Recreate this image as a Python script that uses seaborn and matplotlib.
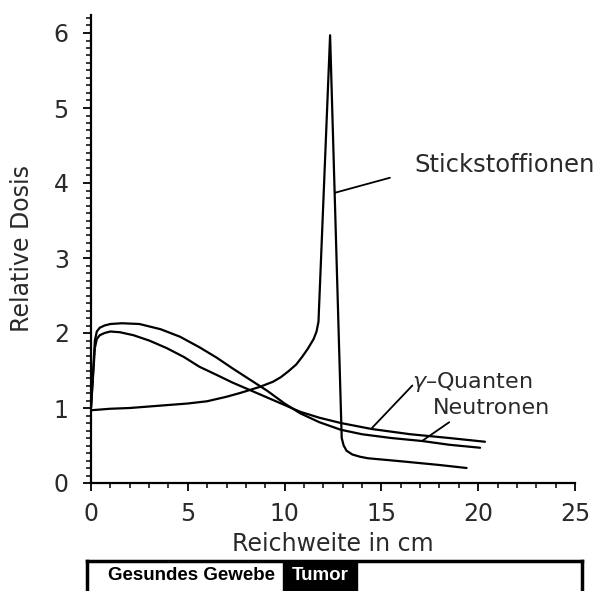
import matplotlib
matplotlib.use("Agg")
import matplotlib.pyplot as plt
import seaborn as sns
import pandas as pd
from matplotlib.ticker import MultipleLocator
from matplotlib.patches import Rectangle

# ---- data ----
stick_x = [0, 1, 2, 3, 4, 5, 6, 7, 7.7, 8.7, 9.4, 9.8, 10.2, 10.6, 10.9, 11.2, 11.5, 11.65, 11.75, 12.35, 12.95, 13.05, 13.2, 13.5, 13.9, 14.3, 16, 18, 19.4]
stick_y = [0.97, 0.99, 1.0, 1.02, 1.04, 1.06, 1.09, 1.15, 1.2, 1.28, 1.35, 1.41, 1.49, 1.58, 1.68, 1.79, 1.92, 2.02, 2.15, 5.97, 0.6, 0.5, 0.43, 0.38, 0.35, 0.33, 0.29, 0.24, 0.2]

neu_x = [0, 0.1, 0.2, 0.3, 0.45, 0.7, 1.0, 1.6, 2.5, 3.6, 4.6, 5.6, 6.5, 7.3, 8.2, 9.1, 10.0, 10.8, 11.8, 12.9, 14.0, 15.5, 17.1, 18.5, 20.1]
neu_y = [1.0, 1.45, 1.9, 2.02, 2.07, 2.1, 2.12, 2.13, 2.12, 2.05, 1.95, 1.81, 1.67, 1.53, 1.38, 1.23, 1.06, 0.93, 0.81, 0.71, 0.65, 0.6, 0.56, 0.51, 0.47]

gam_x = [0, 0.1, 0.2, 0.3, 0.45, 0.7, 1.0, 1.5, 2.2, 3.0, 3.9, 4.8, 5.6, 6.5, 7.3, 8.2, 9.1, 10.0, 10.8, 11.8, 12.9, 14.5, 16.5, 18.5, 20.35]
gam_y = [1.0, 1.4, 1.8, 1.92, 1.97, 2.0, 2.02, 2.01, 1.97, 1.9, 1.8, 1.68, 1.55, 1.44, 1.34, 1.24, 1.14, 1.04, 0.95, 0.87, 0.8, 0.72, 0.65, 0.6, 0.55]

x_ticks = [0, 5, 10, 15, 20, 25]
y_ticks = [0, 1, 2, 3, 4, 5, 6]

labels = {"stick": "Stickstoffionen", "gam": "$\\gamma$\u2013Quanten", "neu": "Neutronen"}
# leader lines (data coords): start on curve, end near label
stick_lead = [(12.6, 3.87), (15.44, 4.07)]
gam_lead = [(14.5, 0.73), (16.6, 1.3)]
neu_lead = [(17.1, 0.56), (18.5, 0.81)]
box_labels = ["Gesundes Gewebe", "Tumor"]

# ---- style ----
sns.set_theme(style="white")
plt.rcParams["font.family"] = ["DejaVu Sans"]
plt.rcParams["mathtext.fontset"] = "dejavusans"

TXT = "#2a2a2a"
W, H = 608, 591
fig = plt.figure(figsize=(W / 100, H / 100), dpi=100)
fig.patch.set_facecolor("white")
ax = fig.add_axes([91 / W, 108 / H, (575 - 91) / W, (483 - 15) / H])
ax.set_facecolor("white")

frames = [
    pd.DataFrame({"x": stick_x, "y": stick_y, "s": "stick"}),
    pd.DataFrame({"x": neu_x, "y": neu_y, "s": "neu"}),
    pd.DataFrame({"x": gam_x, "y": gam_y, "s": "gam"}),
]
for df in frames:
    sns.lineplot(data=df, x="x", y="y", ax=ax, color="black", lw=1.6,
                 sort=False, estimator=None, legend=False)

ax.set_xlim(0, 25)
ax.set_ylim(0, 6.24)
ax.set_xticks(x_ticks)
ax.set_xticklabels([str(t) for t in x_ticks])
ax.set_yticks(y_ticks)
ax.set_yticklabels([str(t) for t in y_ticks])
ax.xaxis.set_minor_locator(MultipleLocator(1))
ax.yaxis.set_minor_locator(MultipleLocator(0.1))

for s in ["top", "right"]:
    ax.spines[s].set_visible(False)
for s in ["left", "bottom"]:
    ax.spines[s].set_color("black")
    ax.spines[s].set_linewidth(1.6)

ax.tick_params(axis="both", which="major", direction="out", length=6, width=1.3,
               color="black", labelsize=17, labelcolor=TXT)
ax.tick_params(axis="both", which="minor", direction="out", length=3.5, width=1.1,
               color="black")
ax.tick_params(axis="y", which="major", pad=10)
ax.tick_params(axis="x", which="major", pad=8)
ax.tick_params(left=True, bottom=True, which="both")

ax.set_xlabel("Reichweite in cm", fontsize=17, color=TXT, labelpad=4)
ax.set_ylabel("Relative Dosis", fontsize=17, color=TXT, labelpad=14)

# annotations
ax.text(16.7, 4.24, labels["stick"], fontsize=17.5, ha="left", va="center", color=TXT)
ax.plot(*zip(*stick_lead), color="black", lw=1.3)
ax.text(16.6, 1.345, labels["gam"], fontsize=16, ha="left", va="center", color=TXT)
ax.plot(*zip(*gam_lead), color="black", lw=1.3)
ax.text(17.65, 1.0, labels["neu"], fontsize=16, ha="left", va="center", color=TXT)
ax.plot(*zip(*neu_lead), color="black", lw=1.3)

# bottom tissue bar
bx0, bx1, by0, by1 = 87, 582, 563, 591
bax = fig.add_axes([bx0 / W, 0, (bx1 - bx0) / W, (by1 - by0 + 2) / H])
bax.set_xlim(bx0, bx1)
bax.set_ylim(0, 1)
bax.set_xticks([])
bax.set_yticks([])
bax.set_facecolor("white")
for s in ["left", "top", "right"]:
    bax.spines[s].set_linewidth(2.5)
    bax.spines[s].set_color("black")
bax.spines["bottom"].set_visible(False)
bax.add_patch(Rectangle((283, 0), 357 - 283, 1, color="black"))
bax.text(192, 0.5, box_labels[0], fontsize=13.5, fontweight="bold",
         family="Liberation Sans", ha="center", va="center", color="black")
bax.text(320, 0.5, box_labels[1], fontsize=13.5, fontweight="bold",
         family="Liberation Sans", ha="center", va="center", color="white")

fig.savefig("out.png", dpi=100, facecolor="white")
